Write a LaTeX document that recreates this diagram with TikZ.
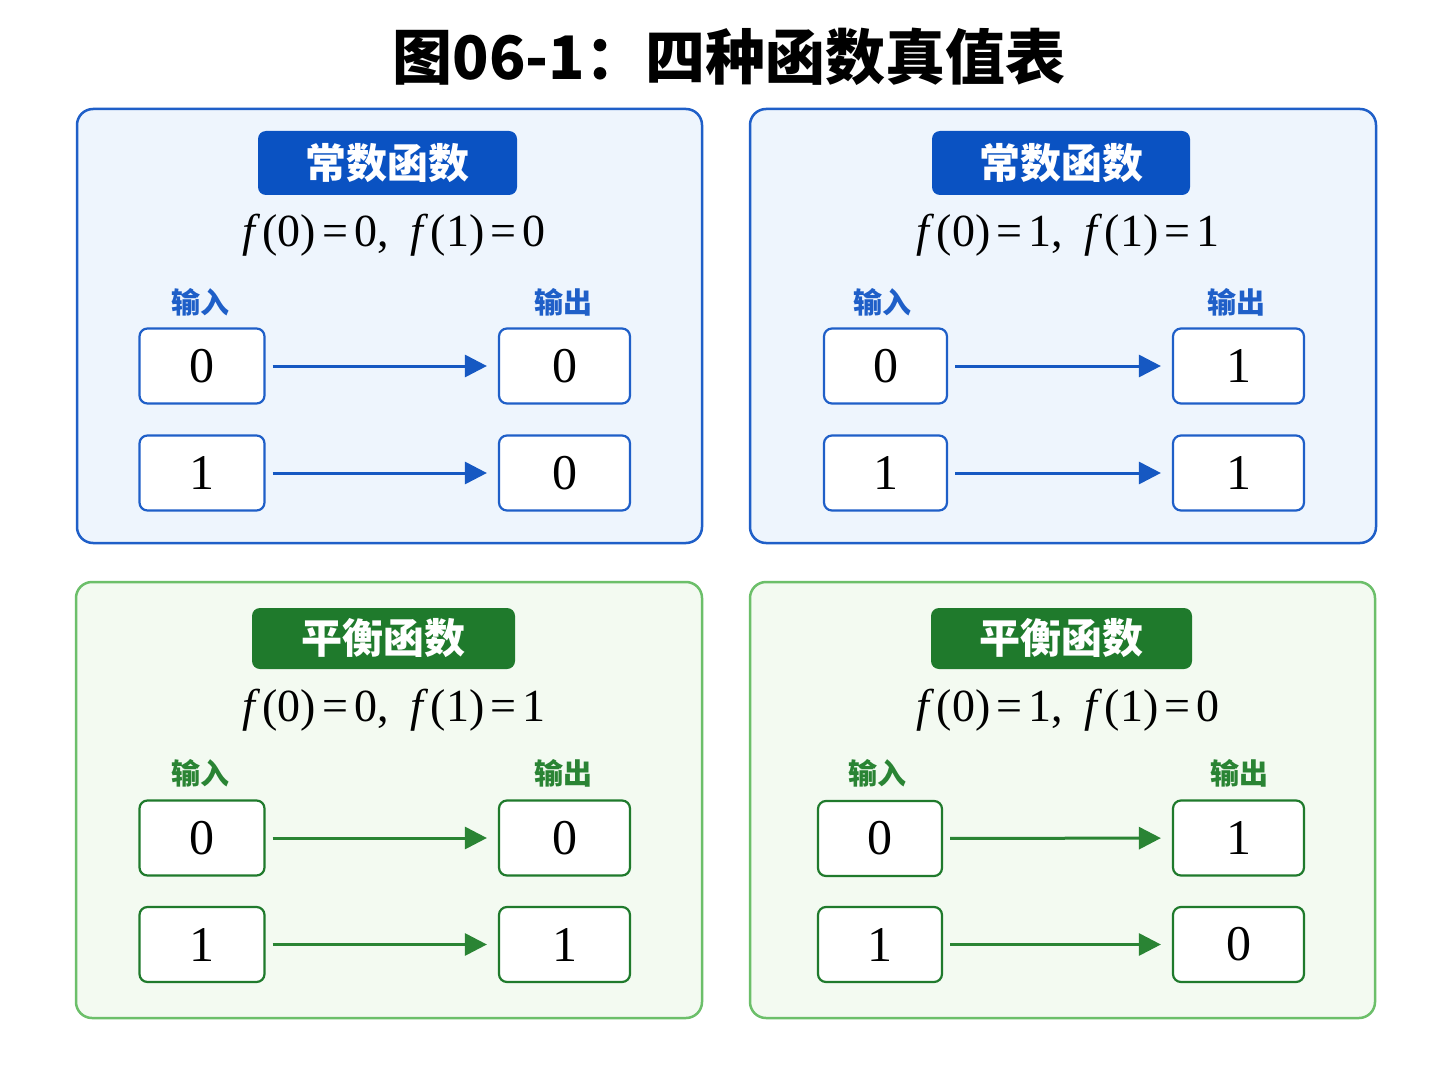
\documentclass[tikz,border=0pt]{standalone}
\usepackage{fontspec}
\setmainfont{Liberation Serif}
\newfontfamily\cjk{Noto Sans CJK SC}
\usetikzlibrary{arrows.meta}
\definecolor{bborder}{HTML}{1F5FC8}
\definecolor{bfill}{HTML}{EEF5FD}
\definecolor{bhead}{HTML}{0A52C2}
\definecolor{bline}{HTML}{1658C2}
\definecolor{gborder}{HTML}{6CBF6A}
\definecolor{gfill}{HTML}{F3FAF1}
\definecolor{ghead}{HTML}{1F7A2C}
\definecolor{gline}{HTML}{2A8434}
\tikzset{
  panel/.style={draw=#1, rounded corners=16pt, line width=2.5pt},
  headbox/.style={fill=#1, rounded corners=8pt, text=white, font=\cjk\bfseries\fontsize{41}{44}\selectfont, inner sep=0pt},
  formula/.style={font=\fontsize{46}{50}\selectfont, inner sep=0pt},
  lbl/.style={text=#1, font=\cjk\bfseries\fontsize{29}{32}\selectfont, inner sep=0pt},
  valbox/.style={draw=#1, fill=white, rounded corners=8pt, line width=2.2pt, minimum height=75pt, font=\fontsize{50}{54}\selectfont},
  conn/.style={draw=#1, line width=3pt, -{Triangle[length=22pt,width=22pt]}, shorten <=7pt, shorten >=11pt},
}
\newcommand{\fx}[2]{\textit{f}\kern2pt(#1)\kern6pt=\kern6pt#2}
\begin{document}
\begin{tikzpicture}[x=1pt,y=-1pt]
\useasboundingbox[fill=white] (0,0) rectangle (1448,1086);
\node[font=\cjk\bfseries\fontsize{60}{64}\selectfont, inner sep=0pt] (title) at (729,57) {图06-1：四种函数真值表};

% ---------- TL ----------
\node[panel=bborder, fill=bfill, minimum width=625pt, minimum height=434pt, inner sep=0pt] (p1) at (389.5,326) {};
\node[headbox=bhead, minimum width=259pt, minimum height=64pt] (h1) at (387.5,163) {常数函数};
\node[formula] (f1) at (394,235) {\fx{0}{0},\kern22pt\fx{1}{0}};
\node[lbl=bborder] (i1) at (200,302) {输入};
\node[lbl=bborder] (o1) at (563,302) {输出};
\node[valbox=bborder, minimum width=125pt] (a1) at (202,366) {0};
\node[valbox=bborder, minimum width=131pt] (b1) at (564.5,366) {0};
\node[valbox=bborder, minimum width=125pt] (c1) at (202,473) {1};
\node[valbox=bborder, minimum width=131pt] (d1) at (564.5,473) {0};
\draw[conn=bline] (a1) -- (b1);
\draw[conn=bline] (c1) -- (d1);

% ---------- TR ----------
\node[panel=bborder, fill=bfill, minimum width=626pt, minimum height=434pt, inner sep=0pt] (p2) at (1063,326) {};
\node[headbox=bhead, minimum width=258pt, minimum height=64pt] (h2) at (1061,163) {常数函数};
\node[formula] (f2) at (1068,235) {\fx{0}{1},\kern22pt\fx{1}{1}};
\node[lbl=bborder] (i2) at (882,302) {输入};
\node[lbl=bborder] (o2) at (1236,302) {输出};
\node[valbox=bborder, minimum width=123pt] (a2) at (885.5,366) {0};
\node[valbox=bborder, minimum width=131pt] (b2) at (1238.5,366) {1};
\node[valbox=bborder, minimum width=123pt] (c2) at (885.5,473) {1};
\node[valbox=bborder, minimum width=131pt] (d2) at (1238.5,473) {1};
\draw[conn=bline] (a2) -- (b2);
\draw[conn=bline] (c2) -- (d2);

% ---------- BL ----------
\node[panel=gborder, fill=gfill, minimum width=626pt, minimum height=436pt, inner sep=0pt] (p3) at (389,800) {};
\node[headbox=ghead, minimum width=263pt, minimum height=61pt] (h3) at (383.5,638.5) {平衡函数};
\node[formula] (f3) at (394,710) {\fx{0}{0},\kern22pt\fx{1}{1}};
\node[lbl=gline] (i3) at (200,773) {输入};
\node[lbl=gline] (o3) at (563,773) {输出};
\node[valbox=ghead, minimum width=125pt] (a3) at (202,838) {0};
\node[valbox=ghead, minimum width=131pt] (b3) at (564.5,838) {0};
\node[valbox=ghead, minimum width=125pt] (c3) at (202,944.5) {1};
\node[valbox=ghead, minimum width=131pt] (d3) at (564.5,944.5) {1};
\draw[conn=gline] (a3) -- (b3);
\draw[conn=gline] (c3) -- (d3);

% ---------- BR ----------
\node[panel=gborder, fill=gfill, minimum width=625pt, minimum height=436pt, inner sep=0pt] (p4) at (1062.5,800) {};
\node[headbox=ghead, minimum width=261pt, minimum height=61pt] (h4) at (1061.5,638.5) {平衡函数};
\node[formula] (f4) at (1068,710) {\fx{0}{1},\kern22pt\fx{1}{0}};
\node[lbl=gline] (i4) at (877,773) {输入};
\node[lbl=gline] (o4) at (1239,773) {输出};
\node[valbox=ghead, minimum width=124pt] (a4) at (880,838.5) {0};
\node[valbox=ghead, minimum width=131pt] (b4) at (1238.5,838) {1};
\node[valbox=ghead, minimum width=124pt] (c4) at (880,944.5) {1};
\node[valbox=ghead, minimum width=131pt] (d4) at (1238.5,944.5) {0};
\draw[conn=gline] (a4) -- (b4);
\draw[conn=gline] (c4) -- (d4);
\end{tikzpicture}
\end{document}
